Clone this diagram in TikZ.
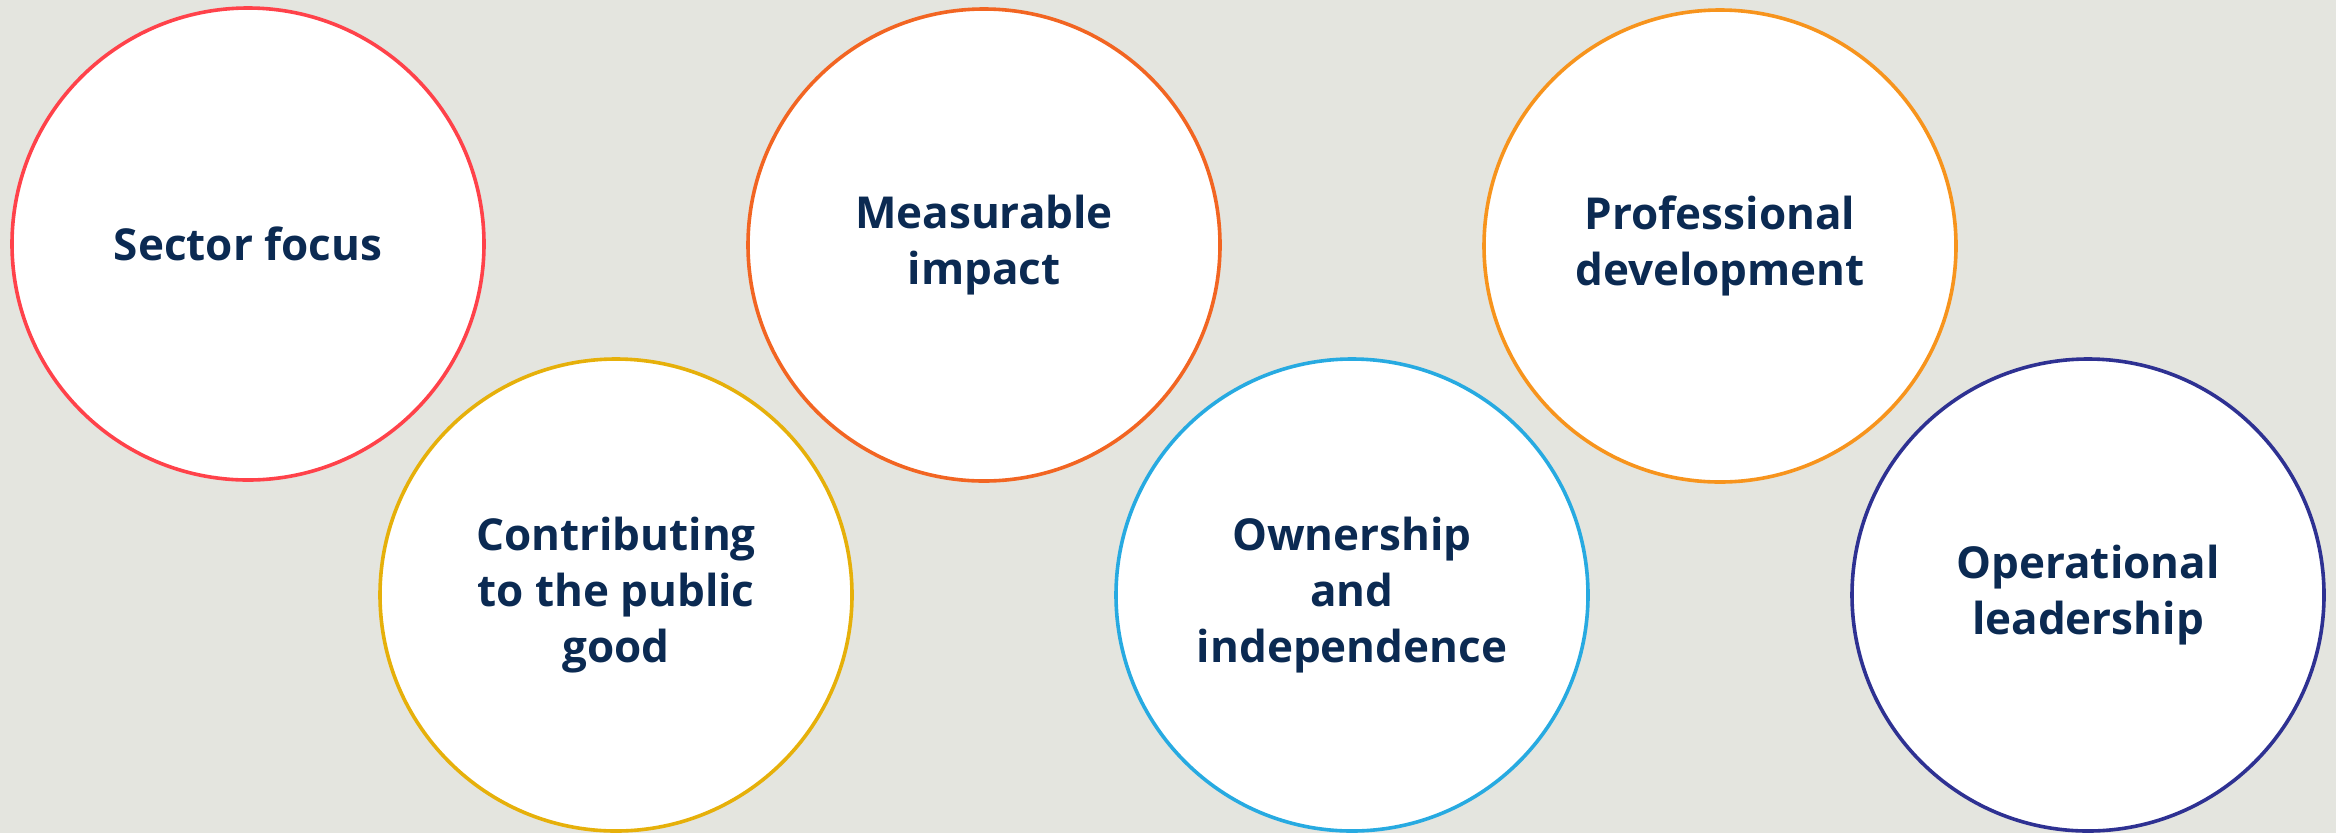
\documentclass[tikz,border=0pt]{standalone}
\usepackage{fontspec}
\setmainfont{Open Sans}
\definecolor{bg}{HTML}{E4E5DF}
\definecolor{txt}{HTML}{0B2A52}
\definecolor{cred}{HTML}{FF424A}
\definecolor{cgold}{HTML}{E6B00A}
\definecolor{corange}{HTML}{F26522}
\definecolor{ccyan}{HTML}{27AAE1}
\definecolor{camber}{HTML}{F7941D}
\definecolor{cnavy}{HTML}{2E3192}
\begin{document}
\begin{tikzpicture}[x=0.75pt,y=-0.75pt,
  bubble/.style={circle, draw=#1, line width=2.7pt, fill=white, minimum size=354pt, inner sep=0pt,
    align=center, text=txt, font=\fontsize{33}{42}\selectfont\bfseries}]
\fill[bg] (0,0) rectangle (2336,833);
\useasboundingbox (0,0) rectangle (2336,833);
\node[bubble=cred] (sector) at (248,244) {Sector focus};
\node[bubble=cgold] (public) at (616,595) {Contributing\\to the public\\good};
\node[bubble=corange] (impact) at (984,245) {Measurable\\impact};
\node[bubble=ccyan] (owner) at (1352,595) {Ownership\\and\\independence};
\node[bubble=camber] (prof) at (1720,246) {Professional\\development};
\node[bubble=cnavy] (oper) at (2088,595) {Operational\\leadership};
\end{tikzpicture}
\end{document}
